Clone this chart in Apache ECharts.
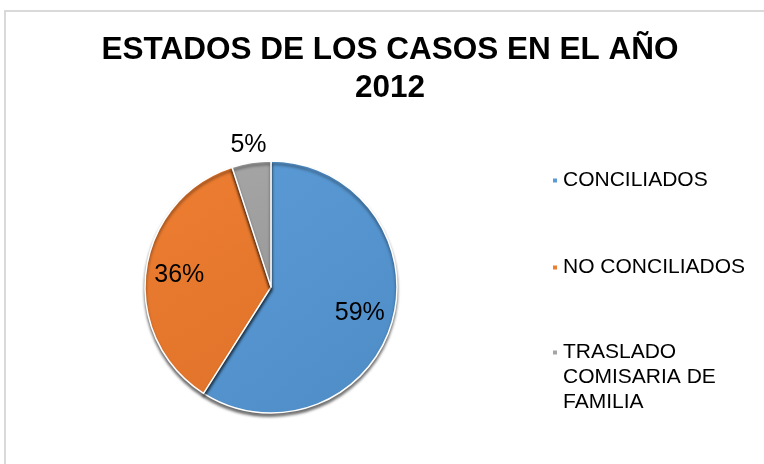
<!DOCTYPE html>
<html>
<head>
<meta charset="utf-8">
<script src="https://cdn.jsdelivr.net/npm/echarts@6/dist/echarts.min.js"></script>
<style>
html,body{margin:0;padding:0;background:#fff;}
#chart{width:764px;height:464px;}
</style>
</head>
<body>
<div id="chart"></div>
<script>
var categories = ['CONCILIADOS', 'NO CONCILIADOS', 'TRASLADO COMISARIA DE FAMILIA'];
var values = [59, 36, 5];
var colors = ['#5B9BD5', '#ED7D31', '#A5A5A5'];
var titleText = 'ESTADOS DE LOS CASOS EN EL AÑO\n2012';
var legendLabels = ['CONCILIADOS', 'NO CONCILIADOS', '\n\nTRASLADO\nCOMISARIA DE\nFAMILIA'];

var FONT = 'Liberation Sans, Arial, sans-serif';
var chart = echarts.init(document.getElementById('chart'));

function grad(c, dark) {
  return new echarts.graphic.LinearGradient(0, 0, 1, 1, [
    {offset: 0, color: c},
    {offset: 1, color: dark}
  ]);
}
var darks = ['#4E8CC6', '#E0742A', '#9A9A9A'];

var mainData = categories.map(function (n, i) {
  return {name: n, value: values[i], itemStyle: {color: grad(colors[i], darks[i])}};
});
var innerLabelData = categories.map(function (n, i) {
  return {name: n, value: values[i], label: {show: i < 2}};
});
var outerLabelData = categories.map(function (n, i) {
  return {name: n, value: values[i], label: {show: i === 2}};
});

var labelStyle = {
  position: 'inside',
  fontFamily: FONT,
  fontSize: 25,
  color: '#000',
  formatter: function (p) { return Math.round(p.percent) + '%'; }
};

var center = [271, 287];
var R = 126;

function legendFor(i, top) {
  return {
    data: [{name: categories[i], icon: 'rect', itemStyle: {color: colors[i]}}],
    orient: 'vertical',
    left: 551,
    top: top,
    padding: 0,
    itemWidth: 6,
    itemHeight: 6,
    selectedMode: false,
    formatter: function () { return legendLabels[i]; },
    textStyle: {
      fontFamily: FONT,
      fontSize: 21,
      color: '#000',
      lineHeight: 25
    }
  };
}

var option = {
  backgroundColor: '#fff',
  animation: false,
  title: {
    text: titleText,
    left: 390,
    top: 31,
    textAlign: 'center',
    padding: 0,
    textStyle: {
      fontFamily: FONT,
      fontSize: 31.5,
      fontWeight: 'bold',
      color: '#000',
      lineHeight: 38
    }
  },
  legend: [
    legendFor(0, 168),
    legendFor(1, 255),
    legendFor(2, 290)
  ],
  graphic: [{
    type: 'rect',
    shape: {x: 5, y: 11, width: 800, height: 500},
    style: {fill: 'none', stroke: '#D9D9D9', lineWidth: 2},
    silent: true,
    z: -1
  }],
  series: [
    {
      type: 'pie',
      center: center,
      radius: R,
      startAngle: 90,
      clockwise: true,
      label: {show: false},
      labelLine: {show: false},
      emphasis: {disabled: true},
      itemStyle: {
        borderColor: '#fff',
        borderWidth: 1.5,
        shadowColor: 'rgba(0,0,0,0.55)',
        shadowBlur: 3,
        shadowOffsetY: 3
      },
      data: mainData,
      z: 2
    },
    {
      type: 'pie',
      center: center,
      radius: [R * 0.42, R],
      startAngle: 90,
      clockwise: true,
      silent: true,
      emphasis: {disabled: true},
      itemStyle: {color: 'rgba(0,0,0,0)', borderWidth: 0},
      label: labelStyle,
      labelLine: {show: false},
      data: innerLabelData,
      z: 3
    },
    {
      type: 'pie',
      center: center,
      radius: [R, R * 1.24],
      startAngle: 90,
      clockwise: true,
      silent: true,
      emphasis: {disabled: true},
      itemStyle: {color: 'rgba(0,0,0,0)', borderWidth: 0},
      label: labelStyle,
      labelLine: {show: false},
      data: outerLabelData,
      z: 3
    }
  ]
};
chart.setOption(option);
</script>
</body>
</html>
